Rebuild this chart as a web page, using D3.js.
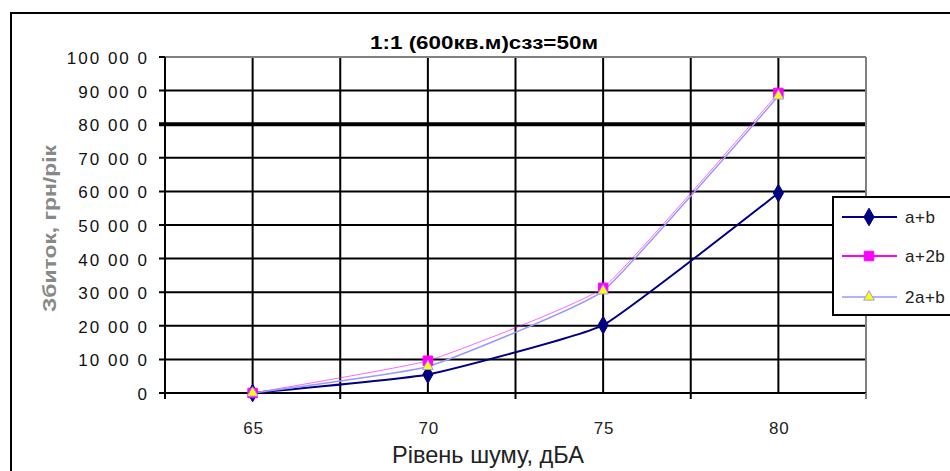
<!DOCTYPE html>
<html>
<head>
<meta charset="utf-8">
<script src="https://cdn.jsdelivr.net/npm/d3@7"></script>
<style>
body { margin: 0; background: #fff; }
svg { display: block; font-family: "Liberation Sans", Arial, sans-serif; }
</style>
</head>
<body>
<svg width="950" height="471"></svg>
<script>
// data
var categories = ["65", "70", "75", "80"];
var seriesAB = [0, 5500, 20200, 59500];
var seriesA2B = [0, 9600, 31300, 89300];
var series2AB = [0, 7900, 30400, 88400];
var yTicks = [0, 10000, 20000, 30000, 40000, 50000, 60000, 70000, 80000, 90000, 100000];
var yTickLabels = ["0", "10 00 0", "20 00 0", "30 00 0", "40 00 0", "50 00 0", "60 00 0", "70 00 0", "80 00 0", "90 00 0", "100 00 0"];
var seriesNames = ["a+b", "a+2b", "2a+b"];

var svg = d3.select("svg");

// outer chart frame
svg.append("rect")
    .attr("x", 11).attr("y", 13)
    .attr("width", 960).attr("height", 480)
    .attr("fill", "#fff").attr("stroke", "#000").attr("stroke-width", 2);

var pLeft = 165, pRight = 866, pTop = 57, pBottom = 393;

var x = d3.scalePoint().domain(categories).range([pLeft, pRight]).padding(0.5);
var step = x.step();
var y = d3.scaleLinear().domain([0, 100000]).range([pBottom, pTop]);

var g = svg.append("g");

// horizontal gridlines
g.selectAll(".hgrid")
    .data(yTicks.slice(1, -1))
    .enter().append("line")
    .attr("x1", pLeft - 6).attr("x2", pRight)
    .attr("y1", function(d) { return y(d); })
    .attr("y2", function(d) { return y(d); })
    .attr("stroke", "#000")
    .attr("stroke-width", function(d) { return d == 80000 ? 4 : 2; });

// vertical gridlines: at points and between them
var vlines = [];
categories.forEach(function(c) { vlines.push(x(c) - step / 2); vlines.push(x(c)); });
g.selectAll(".vgrid")
    .data(vlines.slice(1))
    .enter().append("line")
    .attr("x1", function(d) { return d; }).attr("x2", function(d) { return d; })
    .attr("y1", pTop).attr("y2", pBottom)
    .attr("stroke", "#000").attr("stroke-width", 2);

// plot border top / right (gray)
g.append("line").attr("x1", pLeft).attr("x2", pRight).attr("y1", pTop).attr("y2", pTop)
    .attr("stroke", "#808080").attr("stroke-width", 2);
g.append("line").attr("x1", pRight).attr("x2", pRight).attr("y1", pTop).attr("y2", pBottom + 6)
    .attr("stroke", "#808080").attr("stroke-width", 2);

// axes
g.append("line").attr("x1", pLeft).attr("x2", pLeft).attr("y1", pTop).attr("y2", pBottom + 6)
    .attr("stroke", "#000").attr("stroke-width", 2);
g.append("line").attr("x1", pLeft - 6).attr("x2", pRight).attr("y1", pBottom).attr("y2", pBottom)
    .attr("stroke", "#000").attr("stroke-width", 2);
g.append("line").attr("x1", pLeft - 6).attr("x2", pLeft).attr("y1", pTop).attr("y2", pTop)
    .attr("stroke", "#000").attr("stroke-width", 2);

// x ticks below axis at boundaries
g.selectAll(".xtick")
    .data(categories.map(function(c) { return x(c) + step / 2; }))
    .enter().append("line")
    .attr("x1", function(d) { return d; }).attr("x2", function(d) { return d; })
    .attr("y1", pBottom).attr("y2", pBottom + 6)
    .attr("stroke", function(d, i) { return i == 3 ? "#808080" : "#000"; }).attr("stroke-width", 2);

// y tick labels
g.selectAll(".ylab")
    .data(yTicks)
    .enter().append("text")
    .attr("x", 149)
    .attr("y", function(d) { return y(d) + 7; })
    .attr("text-anchor", "end")
    .attr("font-size", 17)
    .attr("letter-spacing", "2")
    .attr("fill", "#111")
    .text(function(d, i) { return yTickLabels[i]; });

// x tick labels
g.selectAll(".xlab")
    .data(categories)
    .enter().append("text")
    .attr("x", function(d) { return x(d) + 1; })
    .attr("y", 434)
    .attr("text-anchor", "middle")
    .attr("font-size", 17)
    .attr("letter-spacing", "1")
    .attr("fill", "#222")
    .text(function(d) { return d; });

// titles
svg.append("text").attr("x", 370).attr("y", 49)
    .attr("font-size", 18).attr("font-weight", "bold")
    .attr("textLength", 228).attr("lengthAdjust", "spacingAndGlyphs")
    .text("1:1 (600кв.м)сзз=50м");
svg.append("text").attr("x", 392).attr("y", 463)
    .attr("font-size", 23).attr("fill", "#222")
    .attr("textLength", 192).attr("lengthAdjust", "spacingAndGlyphs")
    .text("Рівень шуму, дБА");
svg.append("text")
    .attr("transform", "translate(56,312) rotate(-90)")
    .attr("font-size", 19).attr("font-weight", "bold").attr("fill", "#888")
    .attr("textLength", 167).attr("lengthAdjust", "spacingAndGlyphs")
    .text("Збиток, грн/рік");

// series
var series = [
  { name: seriesNames[0], values: seriesAB, color: "#000080", width: 2, symbol: d3.symbolDiamond, size: 90, fill: "#000080", stroke: "#000080" },
  { name: seriesNames[1], values: seriesA2B, color: "#ff00ff", width: 1, symbol: d3.symbolSquare, size: 90, fill: "#ff00ff", stroke: "#ff00ff" },
  { name: seriesNames[2], values: series2AB, color: "#9999ff", width: 1.5, symbol: d3.symbolTriangle, size: 50, fill: "#ffff00", stroke: "#9999ff" }
];

var line = d3.line()
    .x(function(d, i) { return x(categories[i]); })
    .y(function(d) { return y(d); })
    .curve(d3.curveCardinal.tension(0.65));

series.forEach(function(s) {
  g.append("path")
      .attr("d", line(s.values))
      .attr("fill", "none")
      .attr("stroke", s.color)
      .attr("stroke-opacity", s.width == 1 ? 0.6 : 1)
      .attr("stroke-width", s.width);
});
series.forEach(function(s) {
  g.selectAll(null)
      .data(s.values)
      .enter().append("path")
      .attr("transform", function(d, i) { return "translate(" + x(categories[i]) + "," + y(d) + ")"; })
      .attr("d", d3.symbol().type(s.symbol).size(s.size))
      .attr("fill", s.fill)
      .attr("stroke", s.stroke)
      .attr("stroke-width", 1);
});

// legend
var legend = svg.append("g");
legend.append("rect")
    .attr("x", 833).attr("y", 197).attr("width", 140).attr("height", 118)
    .attr("fill", "#fff").attr("stroke", "#000").attr("stroke-width", 2);
var ly = [217, 256, 297];
series.forEach(function(s, i) {
  legend.append("line").attr("x1", 842).attr("x2", 897).attr("y1", ly[i]).attr("y2", ly[i])
      .attr("stroke", s.color).attr("stroke-width", i == 1 ? 2 : s.width);
  legend.append("path")
      .attr("transform", "translate(869," + ly[i] + ")")
      .attr("d", d3.symbol().type(s.symbol).size(s.size))
      .attr("fill", s.fill).attr("stroke", s.stroke);
  legend.append("text").attr("x", 905).attr("y", ly[i] + 6)
      .attr("font-size", 17).attr("letter-spacing", "0.5").attr("fill", "#222").text(s.name);
});
</script>
</body>
</html>
